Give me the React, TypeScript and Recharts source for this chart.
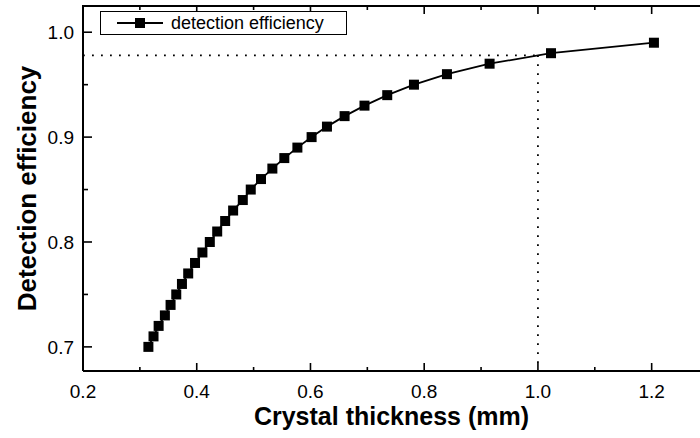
import React from 'react';
import { LineChart, Line, XAxis, YAxis, ReferenceLine } from 'recharts';

const thickness = [0.315, 0.324, 0.333, 0.344, 0.354, 0.364, 0.374, 0.385, 0.397, 0.41, 0.423, 0.436, 0.45, 0.464, 0.481, 0.495, 0.513, 0.533, 0.554, 0.577, 0.602, 0.629, 0.66, 0.695, 0.735, 0.782, 0.84, 0.915, 1.023, 1.204];
const efficiency = [0.70, 0.71, 0.72, 0.73, 0.74, 0.75, 0.76, 0.77, 0.78, 0.79, 0.80, 0.81, 0.82, 0.83, 0.84, 0.85, 0.86, 0.87, 0.88, 0.89, 0.90, 0.91, 0.92, 0.93, 0.94, 0.95, 0.96, 0.97, 0.98, 0.99];
const xTicks = [0.2, 0.3, 0.4, 0.5, 0.6, 0.7, 0.8, 0.9, 1.0, 1.1, 1.2];
const yTicks = [0.7, 0.75, 0.8, 0.85, 0.9, 0.95, 1.0];
const markX = 1.0;
const markY = 0.978;
const xDomain: [number, number] = [0.2, 1.285];
const yDomain: [number, number] = [0.677, 1.025];
const seriesName = 'detection efficiency';

const data = thickness.map((x, i) => ({ x, y: efficiency[i] }));

const FONT = '"Liberation Sans", Arial, Helvetica, sans-serif';
const CHART_W = 700;
const CHART_H = 438;
const TOP = 6;

const BottomTick = (props: any) => {
  const { x, y, payload } = props;
  const v = payload.value;
  const major = Math.round(v * 10) % 2 === 0;
  const len = major ? 8 : 4;
  return (
    <g>
      <line x1={x} y1={y} x2={x} y2={y - len} stroke="#000" strokeWidth={1.6} />
      <line x1={x} y1={TOP} x2={x} y2={TOP + len} stroke="#000" strokeWidth={1.6} />
      {major && (
        <text x={x} y={y + 27} textAnchor="middle" fontFamily={FONT} fontSize={19} fill="#000">
          {v.toFixed(1)}
        </text>
      )}
    </g>
  );
};

const LeftTick = (props: any) => {
  const { x, y, payload } = props;
  const v = payload.value;
  const major = Math.round(v * 100) % 10 === 0;
  return (
    <g>
      <line x1={x} y1={y} x2={x + (major ? 9 : 5)} y2={y} stroke="#000" strokeWidth={1.6} />
      {major && (
        <text x={x - 9} y={y} dy="0.35em" textAnchor="end" fontFamily={FONT} fontSize={19} fill="#000">
          {v.toFixed(1)}
        </text>
      )}
    </g>
  );
};

const XTitle = (props: any) => {
  const vb = props.viewBox;
  return (
    <text x={vb.x + vb.width / 2} y={vb.y + 54} textAnchor="middle" fontFamily={FONT} fontWeight="bold" fontSize={25} fill="#000">
      Crystal thickness (mm)
    </text>
  );
};

const YTitle = (props: any) => {
  const vb = props.viewBox;
  const cx = vb.x + 27;
  const cy = vb.y + vb.height / 2;
  const left = vb.x + vb.width;
  return (
    <g>
      <line x1={left - 1} y1={vb.y} x2={CHART_W} y2={vb.y} stroke="#000" strokeWidth={2} />
      <text x={cx} y={cy} transform={`rotate(-90 ${cx} ${cy})`} textAnchor="middle" dominantBaseline="central" fontFamily={FONT} fontWeight="bold" fontSize={26} fill="#000">
        Detection efficiency
      </text>
    </g>
  );
};

const Square = (props: any) => {
  const { cx, cy } = props;
  if (cx == null || cy == null) return null;
  return <rect x={cx - 5} y={cy - 5} width={10} height={10} fill="#000" />;
};

const LegendBox = () => (
  <div style={{ position: 'absolute', left: 100, top: 11, border: '1.5px solid #000', width: 247, height: 24, display: 'flex', alignItems: 'center', background: '#fff', boxSizing: 'border-box' }}>
    <svg width={60} height={20} style={{ marginLeft: 8 }}>
      <line x1={8} y1={10} x2={54} y2={10} stroke="#000" strokeWidth={1.8} />
      <rect x={26} y={5} width={10} height={10} fill="#000" />
    </svg>
    <span style={{ fontFamily: FONT, fontSize: 18, color: '#000', marginLeft: 2, lineHeight: '20px' }}>{seriesName}</span>
  </div>
);

export default function App() {
  return (
    <div style={{ position: 'absolute', left: 0, top: 0, width: CHART_W, height: CHART_H, background: '#fff', overflow: 'hidden' }}>
      <LineChart width={CHART_W} height={CHART_H} data={data} margin={{ top: TOP, right: 0, left: 0, bottom: 0 }}>
        <XAxis
          dataKey="x"
          type="number"
          domain={xDomain}
          allowDataOverflow
          ticks={xTicks}
          interval={0}
          height={67}
          tickSize={0}
          tickMargin={0}
          tickLine={false}
          tick={<BottomTick />}
          axisLine={{ stroke: '#000', strokeWidth: 2 }}
          label={<XTitle />}
        />
        <YAxis
          type="number"
          domain={yDomain}
          allowDataOverflow
          ticks={yTicks}
          interval={0}
          width={83}
          tickSize={0}
          tickMargin={0}
          tickLine={false}
          tick={<LeftTick />}
          axisLine={{ stroke: '#000', strokeWidth: 2 }}
          label={<YTitle />}
        />
        <ReferenceLine
          segment={[{ x: xDomain[0], y: markY }, { x: markX, y: markY }]}
          stroke="#000"
          strokeWidth={1.8}
          strokeDasharray="1.8 7.2"
          ifOverflow="visible"
        />
        <ReferenceLine
          segment={[{ x: markX, y: markY }, { x: markX, y: yDomain[0] }]}
          stroke="#000"
          strokeWidth={1.8}
          strokeDasharray="1.8 7.2"
          ifOverflow="visible"
        />
        <Line
          dataKey="y"
          name={seriesName}
          stroke="#000"
          strokeWidth={1.8}
          dot={<Square />}
          isAnimationActive={false}
        />
      </LineChart>
      <LegendBox />
    </div>
  );
}
